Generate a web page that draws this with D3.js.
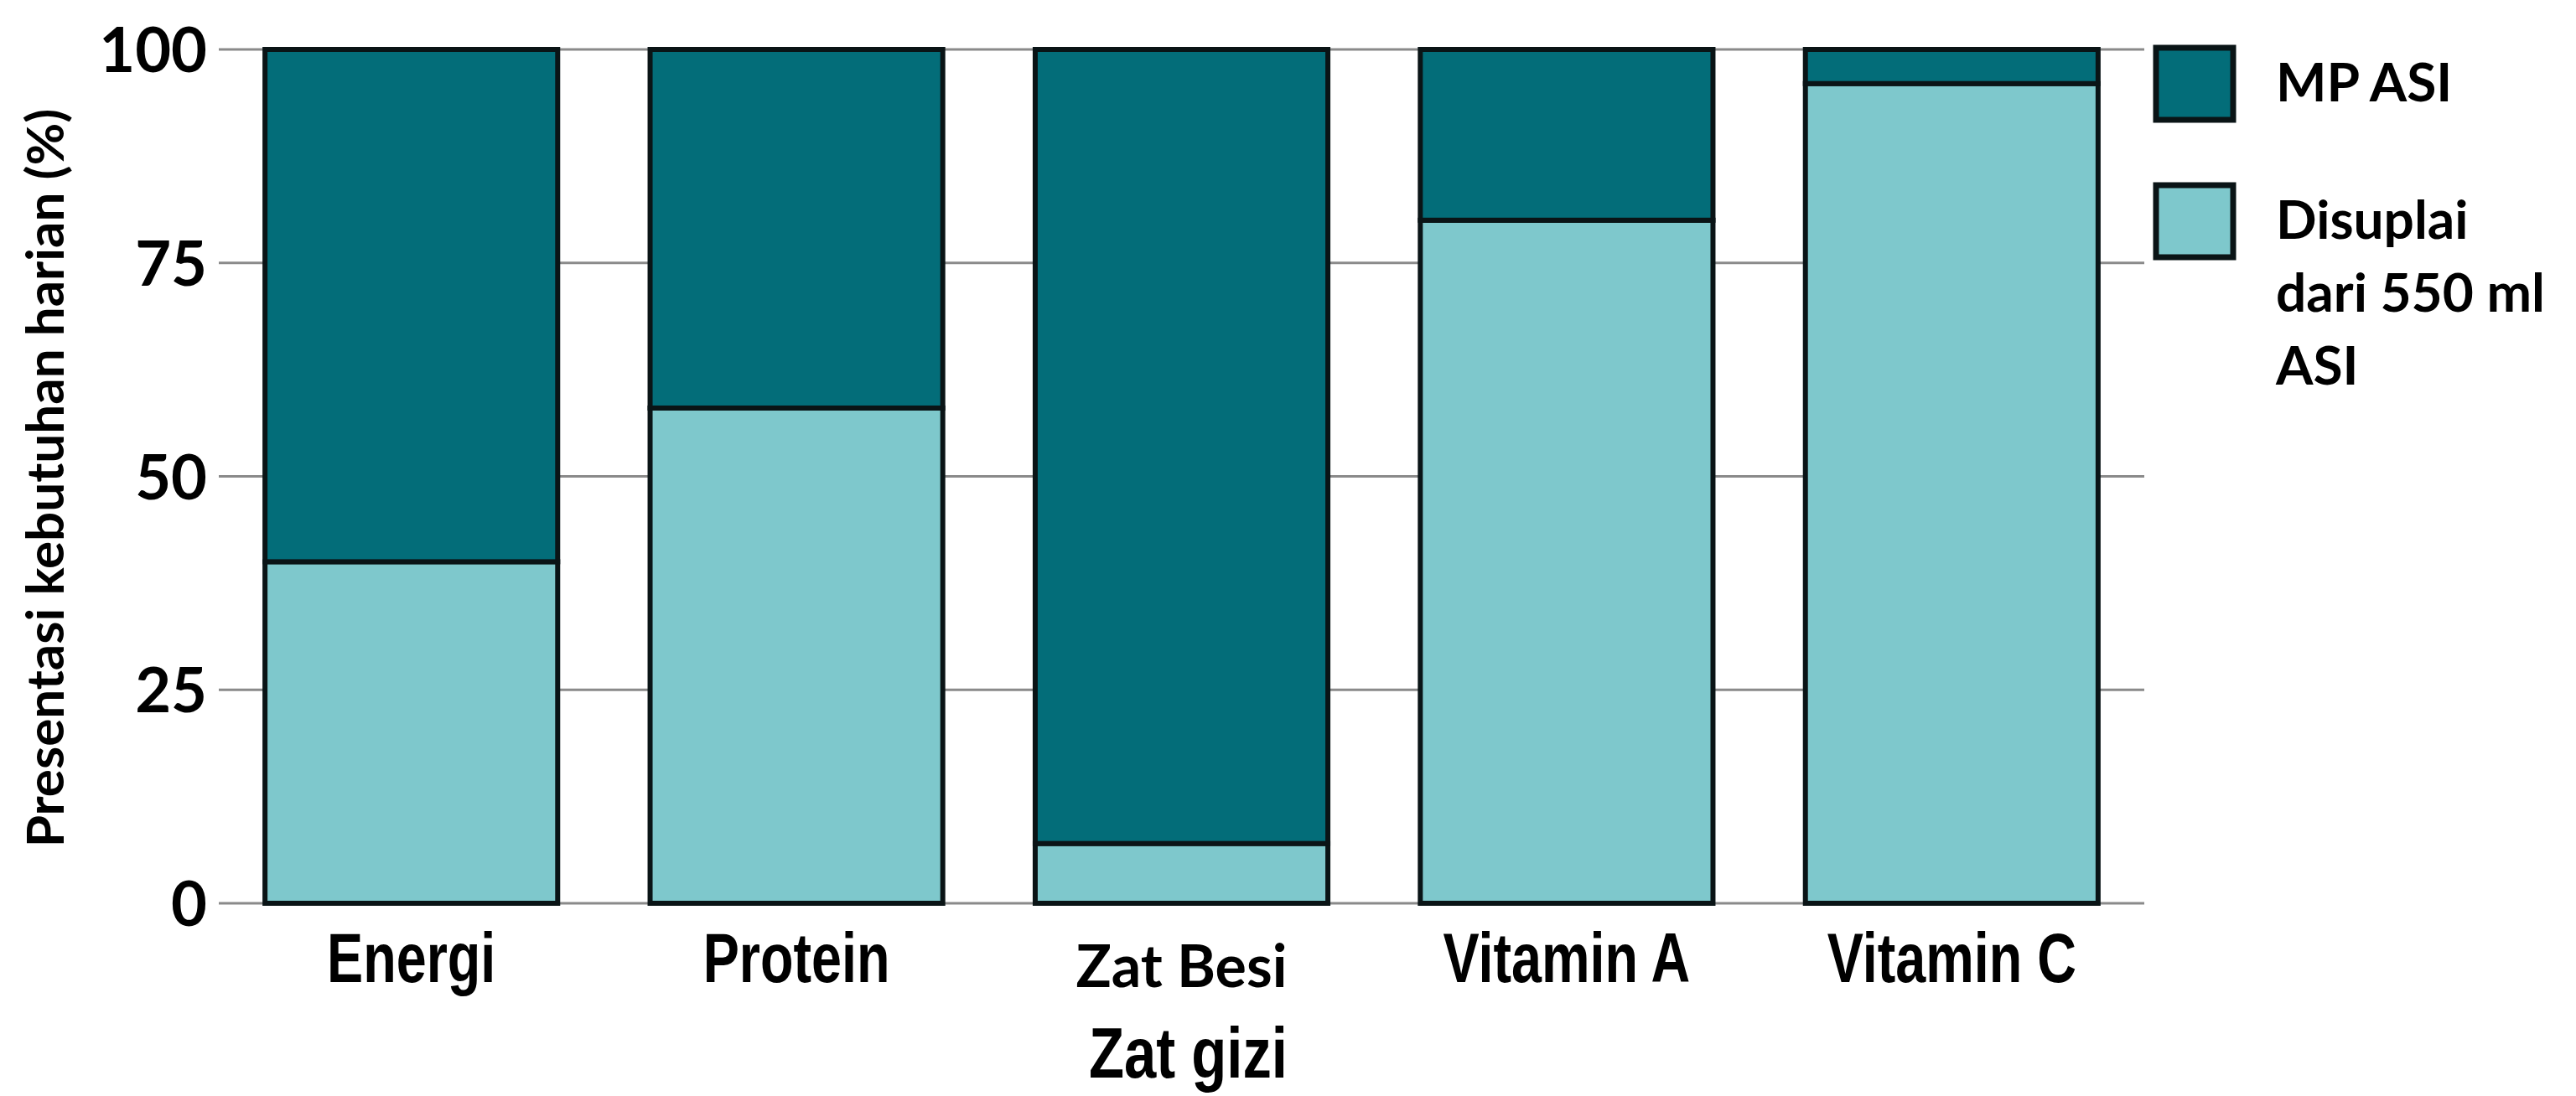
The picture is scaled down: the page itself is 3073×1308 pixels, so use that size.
<!DOCTYPE html>
<html>
<head>
<meta charset="utf-8">
<script src="https://cdn.jsdelivr.net/npm/d3@7"></script>
<style>
  body { margin: 0; background: #fff; }
  text { fill: #000; }
</style>
</head>
<body>
<div id="chart"></div>
<script>
// Data
var categories = ["Energi", "Protein", "Zat Besi", "Vitamin A", "Vitamin C"];
var asiValues = [40, 58, 7, 80, 96];     // Disuplai dari 550 ml ASI
var mpasiValues = [60, 42, 93, 20, 4];   // MP ASI
var yTicks = [0, 25, 50, 75, 100];
var seriesKeys = ["asi", "mpasi"];
var legendLabels = [["MP ASI"], ["Disuplai", "dari 550 ml", "ASI"]];

var W = 3073, H = 1308;
var margin = { top: 59, right: 515, bottom: 230, left: 261 };
var width = W - margin.left - margin.right;
var height = H - margin.top - margin.bottom;

var colors = { asi: "#7ec8cc", mpasi: "#036d79" };

var rows = categories.map(function(c, i) {
  return { cat: c, asi: asiValues[i], mpasi: mpasiValues[i] };
});

var svg = d3.select("#chart")
  .append("svg")
  .attr("width", W)
  .attr("height", H);

var g = svg.append("g")
  .attr("transform", "translate(" + margin.left + "," + margin.top + ")");

var x = d3.scaleBand()
  .domain(categories)
  .range([0, width])
  .paddingInner(0.24)
  .paddingOuter(0.12);

var y = d3.scaleLinear()
  .domain([0, 100])
  .range([height, 0]);

// grid lines behind the bars
g.append("g")
  .selectAll("line")
  .data(yTicks)
  .enter().append("line")
  .attr("x1", 0)
  .attr("x2", width)
  .attr("y1", function(d) { return y(d); })
  .attr("y2", function(d) { return y(d); })
  .style("stroke", "#8a8a8a")
  .style("stroke-width", 3);

var stacked = d3.stack().keys(seriesKeys)(rows);

g.selectAll(".series")
  .data(stacked)
  .enter().append("g")
  .attr("class", "series")
  .style("fill", function(d) { return colors[d.key]; })
  .selectAll("rect")
  .data(function(d) { return d; })
  .enter().append("rect")
  .attr("x", function(d) { return x(d.data.cat); })
  .attr("y", function(d) { return y(d[1]); })
  .attr("width", x.bandwidth())
  .attr("height", function(d) { return y(d[0]) - y(d[1]); })
  .style("stroke", "#0a1416")
  .style("stroke-width", 6);

// y axis (labels only)
var yAxis = g.append("g")
  .call(d3.axisLeft(y).tickValues(yTicks).tickSize(0).tickPadding(14));
yAxis.select(".domain").remove();
yAxis.selectAll("text")
  .style("font-family", "Lato, 'Open Sans', sans-serif")
  .style("font-weight", "bold")
  .style("font-size", "74px")
  .attr("dy", "0.36em");

// x axis (labels only)
var xAxis = g.append("g")
  .attr("transform", "translate(0," + height + ")")
  .call(d3.axisBottom(x).tickSize(0).tickPadding(0));
xAxis.select(".domain").remove();
xAxis.selectAll("text")
  .attr("y", 94)
  .attr("dy", 0)
  .each(function(d) {
    var t = d3.select(this);
    if (d === "Zat Besi") {
      // this one label is set in a different face in the original
      t.style("font-family", "Lato, sans-serif")
        .style("font-weight", "bold")
        .style("font-size", "70px")
        .attr("y", 100);
    } else {
      t.style("font-family", "'Liberation Sans', Arial, sans-serif")
        .style("font-weight", "bold")
        .style("font-size", "84px")
        .attr("transform", "scale(0.77,1)");
    }
  });

// x axis title
svg.append("text")
  .attr("transform", "translate(" + (margin.left + width / 2 + 8) + "," + 1286 + ") scale(0.8,1)")
  .style("text-anchor", "middle")
  .style("font-family", "'Liberation Sans', Arial, sans-serif")
  .style("font-weight", "bold")
  .style("font-size", "86px")
  .text("Zat gizi");

// y axis title
svg.append("text")
  .attr("transform", "translate(76," + (margin.top + height / 2 + 2) + ") rotate(-90)")
  .style("text-anchor", "middle")
  .style("font-family", "Lato, sans-serif")
  .style("font-weight", "bold")
  .style("font-size", "62px")
  .text("Presentasi kebutuhan harian (%)");

// legend
var legendKeys = ["mpasi", "asi"];
var legend = svg.append("g")
  .attr("transform", "translate(2572,57)");

var item = legend.selectAll(".item")
  .data(legendKeys)
  .enter().append("g")
  .attr("class", "item")
  .attr("transform", function(d, i) { return "translate(0," + (i * 164) + ")"; });

item.append("rect")
  .attr("width", 92)
  .attr("height", 86)
  .style("fill", function(d) { return colors[d]; })
  .style("stroke", "#0a1416")
  .style("stroke-width", 7);

item.append("text")
  .attr("x", 143)
  .style("font-family", "Lato, sans-serif")
  .style("font-weight", "bold")
  .style("font-size", "64px")
  .selectAll("tspan")
  .data(function(d, i) { return legendLabels[i]; })
  .enter().append("tspan")
  .attr("x", 143)
  .attr("y", function(d, j) { return 64 + j * 87; })
  .text(function(d) { return d; });
</script>
</body>
</html>
